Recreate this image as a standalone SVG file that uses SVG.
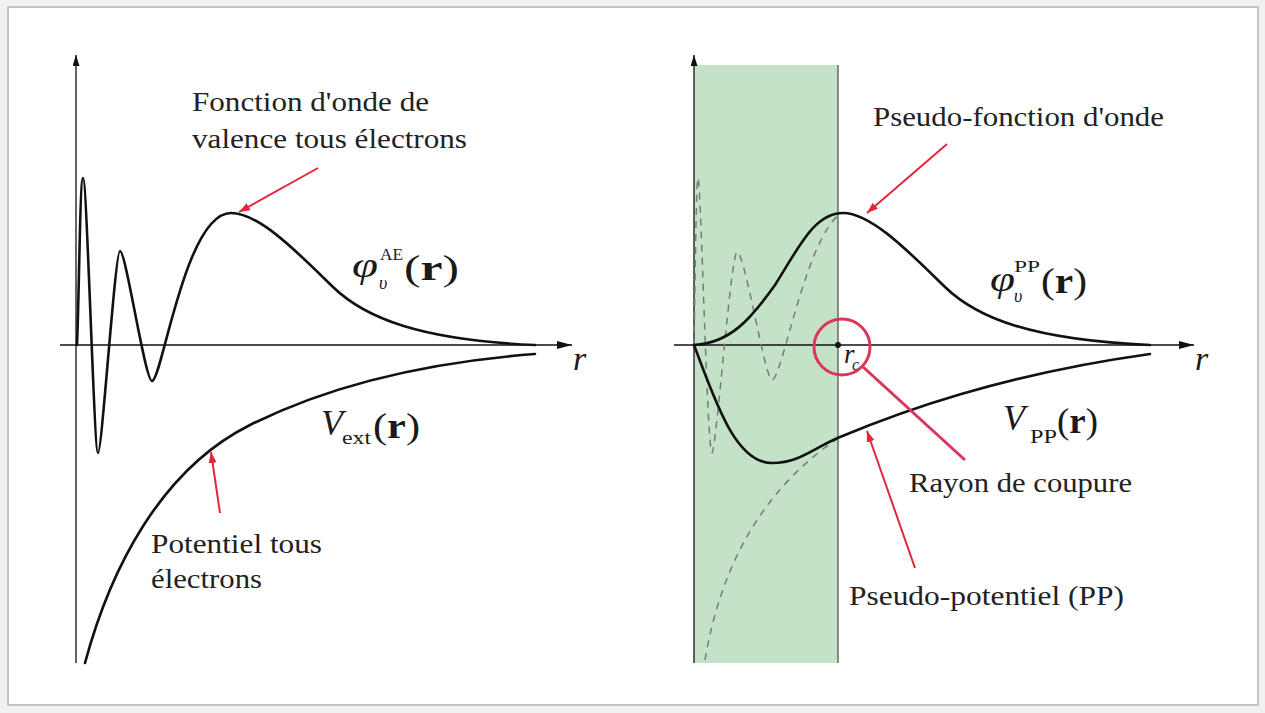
<svg xmlns="http://www.w3.org/2000/svg" width="1265" height="713" viewBox="0 0 1265 713">
  <defs>
    <style>
      .axis { stroke: #111; stroke-width: 1.3; fill: none; }
      .curve { stroke: #111; stroke-width: 2.6; fill: none; stroke-linecap: round; stroke-linejoin: round; }
      .dash { stroke: #7a7a7a; stroke-width: 1.5; fill: none; stroke-dasharray: 7 6; }
      .red { stroke: #e3263a; stroke-width: 2; fill: none; }
      .cut { stroke: #d9365a; stroke-width: 3; fill: none; }
      .lbl { font-family: "Liberation Serif", "Times New Roman", serif; font-size: 27px; fill: #222; }
      .math { font-family: "Liberation Serif", "Times New Roman", serif; font-size: 36px; fill: #1a1a1a; }
      .mi { font-style: italic; }
      .mb { font-weight: bold; }
      .sup { font-family: "Liberation Serif", "Times New Roman", serif; font-size: 17px; fill: #1a1a1a; }
      .sub { font-family: "Liberation Serif", "Times New Roman", serif; font-size: 18px; fill: #1a1a1a; }
    </style>
    <marker id="axhead" markerUnits="userSpaceOnUse" markerWidth="16" markerHeight="10" refX="15" refY="4" orient="auto">
      <path d="M0,0 L15,4 L0,8 z" fill="#111"/>
    </marker>
    <marker id="yhead" markerUnits="userSpaceOnUse" markerWidth="12" markerHeight="8" refX="11" refY="3.5" orient="auto">
      <path d="M0,0 L11,3.5 L0,7 z" fill="#111"/>
    </marker>
    <marker id="redhead" markerUnits="userSpaceOnUse" markerWidth="12" markerHeight="10" refX="11" refY="4" orient="auto">
      <path d="M0,0 L11,4 L0,8 z" fill="#e3263a"/>
    </marker>
  </defs>

  <g id="frame">
    <rect x="0" y="0" width="1265" height="713" fill="#f1f1f1"/>
    <rect x="8" y="7" width="1250" height="698" fill="#ffffff" stroke="#c4c4c4" stroke-width="2"/>
  </g>

  <g id="plot-left">
    <line class="axis" x1="76" y1="663" x2="76" y2="55" marker-end="url(#yhead)"/>
    <line class="axis" x1="60" y1="345" x2="572" y2="345" marker-end="url(#axhead)"/>
    <path id="phi-ae" class="curve" d="M 77 345 C 79 300, 80 178, 83 178 C 87 178, 94 453, 98 453 C 102 453, 115 251, 120 251 C 126 251, 145 381, 152 381 C 162 381, 185 213, 231 213 C 260 213, 300 255, 333 287 C 365 318, 420 340, 535 345"/>
    <path id="v-ext" class="curve" d="M 85 663 C 110 570, 160 470, 250 425 C 330 385, 430 362, 535 354"/>
  </g>

  <g id="plot-right">
    <rect x="694" y="65" width="144" height="598" fill="#c4e2c8"/>
    <line x1="838" y1="65" x2="838" y2="663" stroke="#555" stroke-width="1.3"/>
    <line class="axis" x1="694" y1="663" x2="694" y2="55" marker-end="url(#yhead)"/>
    <line class="axis" x1="674" y1="345" x2="1194" y2="345" marker-end="url(#axhead)"/>
    <path id="phi-ae-dashed" class="dash" d="M 694 345 C 695 300, 696 178, 698 178 C 701 178, 707 453, 712 453 C 716 453, 731 252, 737 252 C 745 252, 765 380, 772 380 C 782 380, 805 240, 840 214"/>
    <path id="v-ext-dashed" class="dash" d="M 705 660 C 720 570, 760 490, 840 437"/>
    <path id="phi-pp" class="curve" d="M 694 345 C 730 343, 750 320, 775 285 C 800 245, 815 213, 843 213 C 872 213, 912 255, 945 287 C 977 318, 1032 340, 1150 345"/>
    <path id="v-pp" class="curve" d="M 694 345 C 715 400, 735 463, 772 463 C 800 463, 815 447, 840 437 C 900 412, 1000 375, 1150 354"/>
    <circle cx="838" cy="345" r="3" fill="#111"/>
  </g>

  <g id="axis-label-r-left">
    <text class="math mi" x="573" y="370" style="font-size:34px">r</text>
  </g>
  <g id="axis-label-r-right">
    <text class="math mi" x="1195" y="370" style="font-size:34px">r</text>
  </g>
  <g id="label-rc">
    <text class="math mi" x="844" y="363" style="font-size:27px">r</text>
    <text class="sub mi" x="852" y="370" style="font-size:16px">c</text>
  </g>

  <g id="label-phi-ae">
    <text class="math mi" x="352" y="277" textLength="26" lengthAdjust="spacingAndGlyphs">φ</text>
    <text class="sup" x="380" y="260" textLength="23" lengthAdjust="spacingAndGlyphs">AE</text>
    <text class="sub mi" x="379" y="289">υ</text>
    <text class="math" x="404" y="280" textLength="55" lengthAdjust="spacingAndGlyphs">(<tspan class="mb">r</tspan>)</text>
  </g>
  <g id="label-v-ext">
    <text class="math mi" x="321" y="435">V</text>
    <text class="sub" x="342" y="444" textLength="29" lengthAdjust="spacingAndGlyphs">ext</text>
    <text class="math" x="373" y="438" textLength="47" lengthAdjust="spacingAndGlyphs">(<tspan class="mb">r</tspan>)</text>
  </g>
  <g id="label-phi-pp">
    <text class="math mi" x="990" y="291" textLength="25" lengthAdjust="spacingAndGlyphs">φ</text>
    <text class="sup" x="1014" y="272" textLength="26" lengthAdjust="spacingAndGlyphs">PP</text>
    <text class="sub mi" x="1014" y="302">υ</text>
    <text class="math" x="1041" y="293" textLength="46" lengthAdjust="spacingAndGlyphs">(<tspan class="mb">r</tspan>)</text>
  </g>
  <g id="label-v-pp">
    <text class="math mi" x="1003" y="430">V</text>
    <text class="sub" x="1030" y="443" textLength="27" lengthAdjust="spacingAndGlyphs">PP</text>
    <text class="math" x="1057" y="433" textLength="41" lengthAdjust="spacingAndGlyphs">(<tspan class="mb">r</tspan>)</text>
  </g>

  <g id="note-fonction-onde">
    <text class="lbl" x="192" y="111" textLength="237" lengthAdjust="spacingAndGlyphs">Fonction d'onde de</text>
    <text class="lbl" x="192" y="148" textLength="275" lengthAdjust="spacingAndGlyphs">valence tous électrons</text>
  </g>
  <g id="note-potentiel">
    <text class="lbl" x="151" y="553" textLength="171" lengthAdjust="spacingAndGlyphs">Potentiel tous</text>
    <text class="lbl" x="151" y="588" textLength="111" lengthAdjust="spacingAndGlyphs">électrons</text>
  </g>
  <g id="note-pseudo-fonction">
    <text class="lbl" x="873" y="126" textLength="291" lengthAdjust="spacingAndGlyphs">Pseudo-fonction d'onde</text>
  </g>
  <g id="note-rayon">
    <text class="lbl" x="909" y="492" textLength="223" lengthAdjust="spacingAndGlyphs">Rayon de coupure</text>
  </g>
  <g id="note-pseudo-potentiel">
    <text class="lbl" x="849" y="605" textLength="275" lengthAdjust="spacingAndGlyphs">Pseudo-potentiel (PP)</text>
  </g>

  <g id="connectors">
    <line class="red" x1="318" y1="168" x2="239" y2="212" marker-end="url(#redhead)"/>
    <line class="red" x1="220" y1="513" x2="211" y2="452" marker-end="url(#redhead)"/>
    <line class="red" x1="947" y1="144" x2="867" y2="213" marker-end="url(#redhead)"/>
    <line class="red" x1="915" y1="568" x2="867" y2="431" marker-end="url(#redhead)"/>
    <circle class="cut" cx="842" cy="347" r="28"/>
    <line class="cut" x1="862" y1="366" x2="965" y2="460"/>
  </g>
</svg>
